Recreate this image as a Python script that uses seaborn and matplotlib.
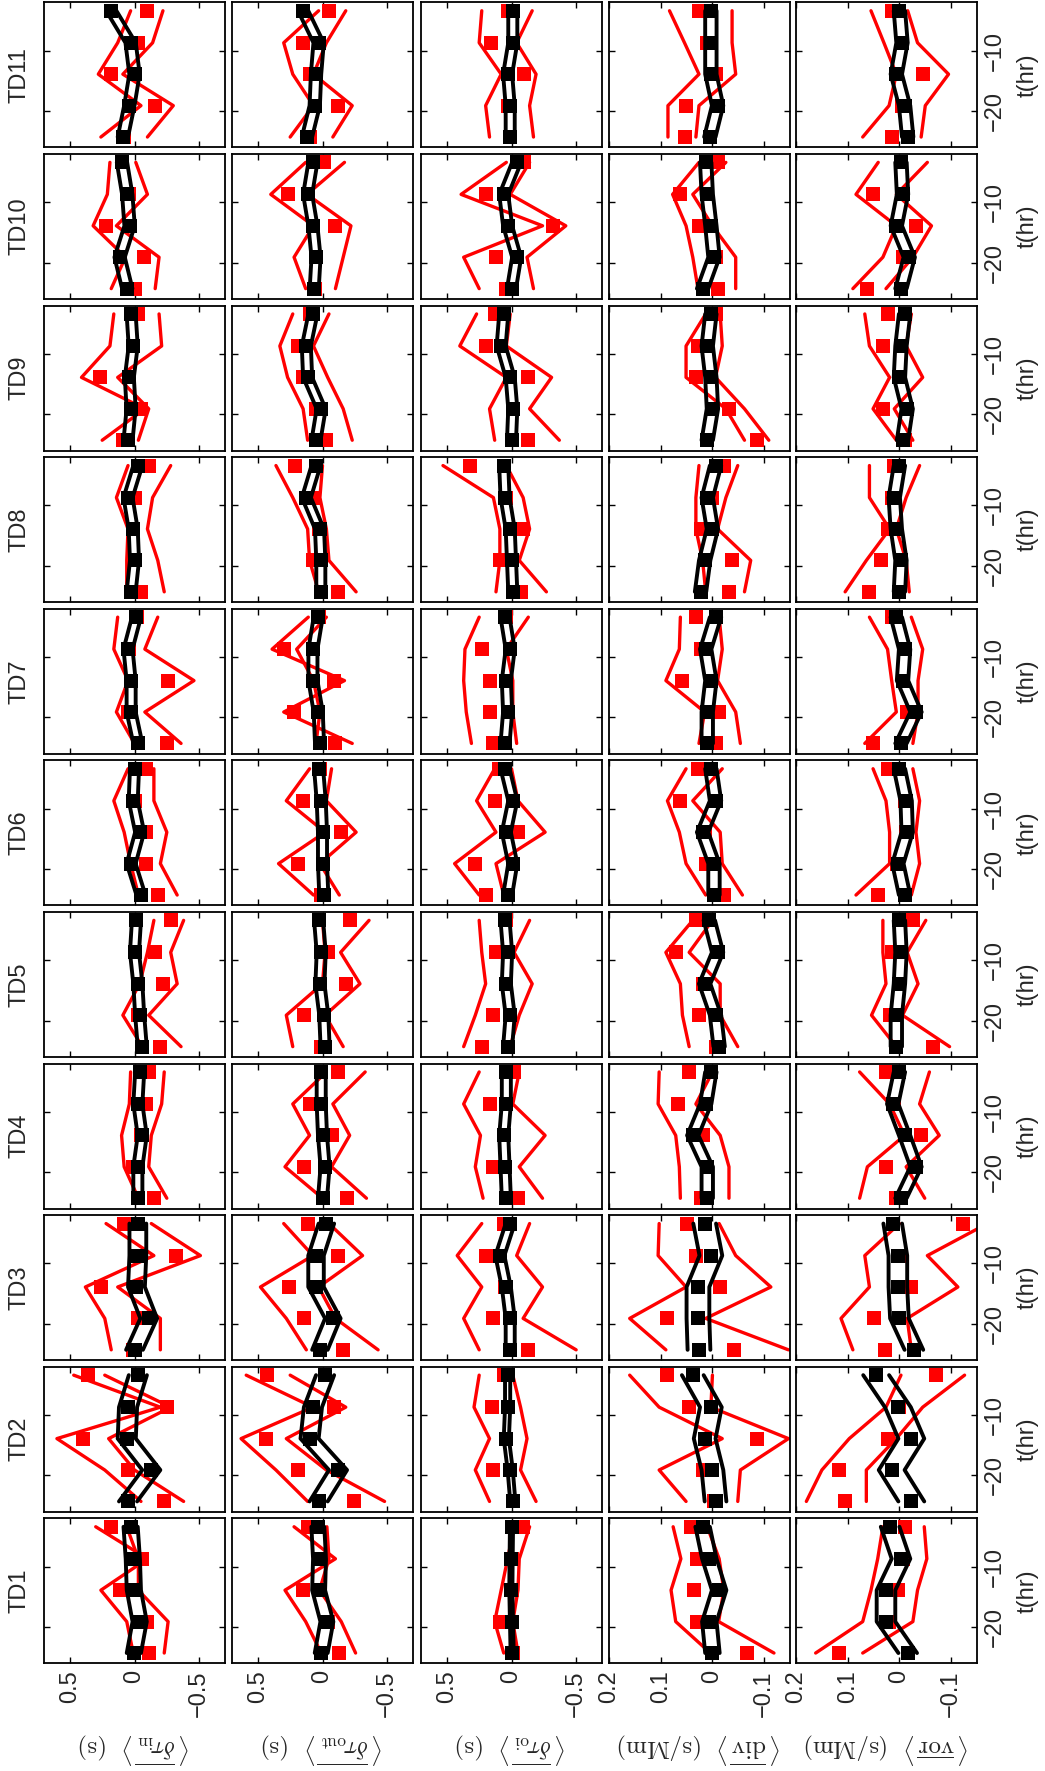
import numpy as np
import matplotlib
matplotlib.use('Agg')
import matplotlib.pyplot as plt
import seaborn as sns

# times of the five samples (hours)
t_hr = [-24.3, -19.1, -13.9, -8.7, -3.4]

td_names = ['TD1', 'TD2', 'TD3', 'TD4', 'TD5', 'TD6', 'TD7', 'TD8', 'TD9', 'TD10', 'TD11']
quantities = ['in', 'out', 'oi', 'div', 'vor']

value_labels = [
    r'$\langle\,\overline{\delta\tau_{\rm in}}\,\rangle\ \ ({\rm s})$',
    r'$\langle\,\overline{\delta\tau_{\rm out}}\,\rangle\ \ ({\rm s})$',
    r'$\langle\,\overline{\delta\tau_{\rm oi}}\,\rangle\ \ ({\rm s})$',
    r'$\langle\,\overline{\rm div}\,\rangle\ \ ({\rm s/Mm})$',
    r'$\langle\,\overline{\rm vor}\,\rangle\ \ ({\rm s/Mm})$',
]
value_ticks = [[0.5, 0, -0.5], [0.5, 0, -0.5], [0.5, 0, -0.5],
               [0.2, 0.1, 0, -0.1], [0.2, 0.1, 0, -0.1]]
value_tick_labels = [['0.5', '0', '\u22120.5'], ['0.5', '0', '\u22120.5'], ['0.5', '0', '\u22120.5'],
                     ['0.2', '0.1', '0', '\u22120.1'], ['0.2', '0.1', '0', '\u22120.1']]
t_ticks = [-20, -10]
t_tick_labels = ['\u221220', '\u221210']

# red squares, [TD][quantity] -> values at t_hr
red_pts = [
    [[-0.115, -0.10, 0.11, -0.06, 0.185], [-0.13, -0.04, 0.15, 0.02, 0.11], [-0.01, 0.09, 0.0, 0.0, -0.09],
     [-0.067, 0.03, 0.035, 0.03, 0.042], [0.117, 0.02, 0.003, -0.006, -0.01]],
    [[-0.23, 0.05, 0.40, -0.25, 0.36], [-0.24, 0.19, 0.44, -0.09, 0.43], [-0.01, 0.14, 0.04, 0.15, 0.06],
     [-0.003, 0.019, -0.087, 0.045, 0.087], [0.106, 0.116, 0.023, 0.0, -0.071]],
    [[0.01, -0.026, 0.26, -0.32, 0.08], [-0.16, 0.14, 0.26, -0.12, 0.115], [-0.13, 0.14, 0.05, 0.20, 0.06],
     [-0.041, 0.087, -0.015, 0.032, 0.049], [0.028, 0.049, -0.023, 0.0, -0.122]],
    [[-0.15, 0.01, -0.05, -0.09, -0.11], [-0.19, 0.14, -0.07, 0.10, -0.12], [-0.05, 0.14, 0.06, 0.17, -0.02],
     [0.023, 0.01, 0.019, 0.067, 0.045], [0.006, 0.026, -0.041, 0.01, 0.026]],
    [[-0.20, -0.03, -0.22, -0.16, -0.28], [0.01, 0.14, -0.18, -0.04, -0.21], [0.23, 0.14, 0.04, 0.12, 0.04],
     [-0.006, 0.026, 0.019, 0.07, 0.032], [-0.064, 0.019, 0.0, 0.015, -0.026]],
    [[-0.18, -0.09, -0.09, 0.0, -0.09], [0.01, 0.19, -0.14, 0.15, 0.02], [0.20, 0.28, -0.05, 0.13, 0.10],
     [-0.023, 0.013, 0.015, 0.062, 0.028], [0.041, 0.005, -0.012, -0.01, 0.023]],
    [[-0.25, 0.05, -0.26, 0.04, -0.02], [-0.10, 0.22, -0.09, 0.30, 0.03], [0.14, 0.17, 0.17, 0.23, 0.04],
     [-0.006, -0.013, 0.058, 0.023, 0.032], [0.051, -0.015, -0.006, -0.01, 0.015]],
    [[-0.05, 0.0, 0.01, 0.0, -0.11], [-0.12, 0.074, 0.03, 0.074, 0.21], [-0.07, 0.09, -0.09, 0.04, 0.32],
     [-0.032, -0.038, 0.023, 0.0, -0.023], [0.058, 0.036, 0.023, 0.015, 0.01]],
    [[0.09, -0.05, 0.27, 0.01, -0.026], [-0.03, 0.05, 0.15, 0.19, 0.10], [-0.13, -0.01, -0.13, 0.20, 0.13],
     [-0.087, -0.032, 0.032, 0.028, -0.006], [-0.01, 0.032, 0.0, 0.032, 0.023]],
    [[0.0, -0.07, 0.22, 0.04, 0.10], [0.06, 0.05, -0.10, 0.27, -0.01], [0.04, 0.12, -0.32, 0.20, -0.10],
     [-0.01, -0.006, 0.026, 0.062, -0.01], [0.062, -0.006, -0.032, 0.051, -0.003]],
    [[0.08, -0.16, 0.18, -0.03, -0.10], [0.10, -0.12, 0.10, 0.15, -0.05], [0.01, 0.03, -0.10, 0.16, 0.03],
     [0.054, 0.051, -0.006, 0.01, 0.026], [0.015, -0.005, -0.046, -0.005, 0.015]],
]

# the two red curves
red_line_a = [
    [[0.01, 0.06, 0.26, -0.10, 0.30], [0.01, 0.13, 0.29, -0.10, 0.22], [0.06, 0.13, 0.08, 0.03, -0.02],
     [0.004, 0.071, 0.08, 0.061, 0.076], [0.162, 0.071, 0.055, 0.042, 0.032]],
    [[-0.05, 0.23, 0.60, -0.20, 0.47], [0.115, 0.36, 0.63, 0.074, 0.59], [0.17, 0.28, 0.17, 0.29, 0.25],
     [0.051, 0.103, -0.019, 0.103, 0.16], [0.18, 0.15, 0.097, 0.026, -0.003]],
    [[0.18, 0.23, 0.38, -0.15, 0.22], [0.125, 0.28, 0.48, 0.074, 0.30], [0.25, 0.37, 0.23, 0.42, 0.23],
     [0.09, 0.16, 0.051, 0.105, 0.103], [0.09, 0.113, 0.058, 0.067, 0.0]],
    [[-0.03, 0.08, 0.10, 0.04, 0.03], [0.0, 0.29, 0.10, 0.23, -0.03], [0.22, 0.28, 0.24, 0.37, 0.25],
     [0.062, 0.064, 0.071, 0.105, 0.103], [0.077, 0.062, -0.01, 0.019, 0.077]],
    [[-0.06, 0.09, -0.04, -0.10, -0.15], [0.23, 0.28, 0.0, -0.02, 0.0], [0.37, 0.28, 0.20, 0.23, 0.25],
     [0.045, 0.058, 0.062, 0.09, 0.038], [0.006, 0.054, 0.026, 0.032, 0.032]],
    [[-0.03, 0.03, 0.08, 0.16, 0.05], [0.07, 0.34, -0.02, 0.28, 0.10], [0.25, 0.44, 0.12, 0.27, 0.13],
     [0.013, 0.051, 0.064, 0.087, 0.051], [0.084, 0.019, 0.019, 0.026, 0.051]],
    [[0.0, 0.14, 0.05, 0.16, 0.13], [-0.23, 0.30, -0.17, 0.39, 0.11], [0.31, 0.35, 0.37, 0.36, 0.25],
     [0.026, 0.015, 0.09, 0.064, 0.062], [0.067, 0.006, 0.015, 0.023, 0.058]],
    [[0.06, 0.06, 0.05, 0.14, 0.05], [0.03, 0.10, 0.115, 0.23, 0.36], [0.12, 0.09, 0.09, 0.14, 0.53],
     [0.013, 0.019, 0.032, 0.032, 0.026], [0.105, 0.064, 0.019, 0.058, 0.058]],
    [[0.25, -0.08, 0.41, 0.19, 0.16], [0.115, 0.15, 0.27, 0.33, 0.23], [0.13, 0.17, 0.04, 0.40, 0.27],
     [-0.062, -0.026, 0.051, 0.051, 0.013], [0.006, 0.051, 0.019, 0.058, 0.067]],
    [[0.18, 0.07, 0.32, 0.21, 0.19], [0.13, 0.22, 0.07, 0.40, 0.13], [0.25, 0.37, -0.24, 0.39, 0.04],
     [0.028, 0.038, 0.051, 0.077, 0.026], [0.09, 0.032, 0.006, 0.084, 0.041]],
    [[0.26, -0.05, 0.28, 0.13, 0.03], [0.25, 0.07, 0.23, 0.30, 0.03], [0.17, 0.20, 0.08, 0.25, 0.23],
     [0.086, 0.086, 0.026, 0.054, 0.083], [0.071, 0.02, 0.006, 0.03, 0.055]],
]
red_line_b = [
    [[-0.23, -0.26, -0.03, -0.03, 0.06], [-0.256, -0.145, 0.023, -0.05, -0.034], [-0.05, -0.01, -0.05, -0.06, -0.14],
     [-0.119, -0.012, -0.022, -0.013, 0.01], [0.071, -0.026, -0.035, -0.053, -0.048]],
    [[-0.38, 0.0, 0.20, -0.28, 0.23], [-0.48, -0.03, 0.28, -0.18, 0.25], [-0.19, -0.07, -0.12, -0.07, -0.01],
     [-0.049, -0.054, -0.147, 0.003, 0.0], [0.064, 0.064, 0.006, -0.045, -0.126]],
    [[-0.20, -0.20, 0.13, -0.51, -0.13], [-0.43, -0.10, 0.03, -0.31, -0.05], [-0.50, -0.09, -0.24, -0.04, -0.14],
     [-0.147, 0.013, -0.113, -0.045, -0.013], [-0.023, -0.015, -0.113, -0.054, -0.17]],
    [[-0.25, -0.11, -0.13, -0.21, -0.23], [-0.34, -0.07, -0.21, -0.08, -0.33], [-0.24, -0.06, -0.26, -0.01, -0.06],
     [-0.032, -0.032, -0.015, 0.032, 0.0], [-0.049, -0.013, -0.077, -0.039, -0.058]],
    [[-0.36, -0.11, -0.33, -0.28, -0.38], [-0.16, -0.02, -0.29, -0.14, -0.36], [0.01, -0.06, -0.16, -0.02, -0.14],
     [-0.049, -0.015, -0.015, 0.045, 0.0], [-0.097, -0.006, -0.036, -0.015, -0.051]],
    [[-0.33, -0.20, -0.25, -0.15, -0.15], [-0.13, 0.02, -0.26, -0.03, -0.07], [0.06, 0.12, -0.26, -0.05, 0.0],
     [-0.058, -0.019, -0.015, 0.038, -0.019], [-0.023, -0.039, -0.032, -0.039, -0.026]],
    [[-0.36, -0.08, -0.46, -0.08, -0.18], [0.05, 0.02, 0.07, 0.20, -0.03], [-0.04, -0.01, -0.01, 0.04, -0.13],
     [-0.054, -0.045, -0.01, -0.019, -0.013], [-0.026, -0.036, -0.036, -0.045, -0.023]],
    [[-0.23, -0.18, -0.10, -0.14, -0.28], [-0.26, -0.05, -0.03, 0.02, 0.0], [-0.27, -0.06, -0.14, -0.09, 0.04],
     [-0.062, -0.074, -0.01, -0.026, -0.049], [-0.019, -0.013, 0.006, -0.013, -0.039]],
    [[-0.03, -0.11, 0.13, -0.21, -0.19], [-0.23, -0.16, -0.04, 0.07, -0.05], [-0.37, -0.14, -0.31, 0.04, 0.01],
     [-0.109, -0.062, -0.006, -0.019, -0.015], [-0.026, 0.01, -0.045, -0.013, -0.023]],
    [[-0.16, -0.19, 0.14, -0.10, -0.01], [-0.10, -0.16, -0.22, 0.12, -0.17], [-0.17, -0.12, -0.42, 0.01, -0.14],
     [-0.045, -0.045, 0.0, 0.038, -0.026], [0.026, -0.026, -0.062, 0.006, -0.054]],
    [[-0.10, -0.30, 0.09, -0.14, -0.22], [-0.08, -0.23, 0.07, -0.03, -0.18], [-0.17, -0.14, -0.19, -0.04, -0.16],
     [0.032, 0.026, -0.045, -0.038, -0.038], [-0.042, -0.05, -0.095, -0.035, -0.016]],
]

# black squares and the half-width of the black band around them
blk_pts = [
    [[0.005, -0.04, 0.005, 0.013, 0.03], [0.01, -0.034, 0.03, 0.023, 0.036], [-0.005, 0.0, 0.005, 0.003, 0.0],
     [0.0, 0.006, -0.013, 0.006, 0.019], [-0.016, 0.026, 0.026, -0.003, 0.018]],
    [[0.05, -0.13, 0.06, 0.05, -0.026], [0.03, -0.12, 0.10, 0.074, -0.02], [-0.01, 0.01, 0.04, 0.03, 0.03],
     [-0.006, 0.0, 0.015, 0.003, 0.038], [-0.023, 0.015, -0.023, 0.003, 0.045]],
    [[0.0, -0.11, -0.015, -0.026, -0.026], [0.02, -0.08, 0.05, 0.05, -0.03], [0.01, 0.01, 0.04, 0.09, 0.01],
     [0.026, 0.028, 0.028, 0.003, 0.015], [-0.028, 0.0, 0.003, 0.003, 0.013]],
    [[-0.026, -0.026, -0.06, -0.026, -0.04], [0.0, -0.02, 0.0, 0.01, 0.01], [0.04, 0.05, 0.06, 0.04, 0.04],
     [0.01, 0.01, 0.038, 0.013, 0.003], [-0.003, -0.032, -0.01, 0.013, 0.0]],
    [[-0.06, -0.04, -0.026, 0.0, -0.015], [-0.02, -0.01, 0.02, 0.01, 0.03], [0.03, 0.01, 0.04, 0.03, 0.05],
     [-0.013, -0.006, 0.015, -0.01, 0.006], [0.006, 0.006, 0.0, -0.003, 0.0]],
    [[-0.05, 0.026, -0.04, 0.01, 0.0], [-0.01, 0.0, 0.0, 0.01, 0.03], [0.03, -0.01, 0.04, -0.01, 0.05],
     [-0.003, -0.003, 0.019, -0.006, 0.003], [-0.01, 0.003, -0.015, -0.013, 0.0]],
    [[-0.026, 0.026, 0.026, 0.05, -0.015], [0.023, 0.033, 0.074, 0.074, 0.033], [0.05, 0.03, 0.04, 0.01, 0.05],
     [0.01, 0.01, 0.003, 0.013, -0.006], [-0.003, -0.032, -0.006, -0.01, 0.006]],
    [[0.026, 0.0, 0.01, 0.05, -0.026], [0.013, 0.013, 0.023, 0.125, 0.05], [-0.01, 0.0, 0.01, 0.05, 0.06],
     [0.023, 0.015, 0.0, 0.01, -0.006], [0.0, -0.003, 0.006, 0.01, 0.0]],
    [[0.05, 0.026, 0.04, 0.01, 0.026], [0.05, 0.01, 0.115, 0.125, 0.074], [0.0, -0.01, 0.01, 0.08, 0.06],
     [0.01, 0.0, 0.003, 0.01, 0.003], [-0.006, -0.015, 0.0, -0.003, -0.01]],
    [[0.056, 0.115, 0.038, 0.056, 0.097], [0.064, 0.05, 0.074, 0.115, 0.074], [0.0, -0.04, 0.03, 0.06, -0.04],
     [0.019, -0.003, 0.003, 0.01, 0.013], [-0.003, -0.019, 0.006, -0.006, -0.003]],
    [[0.09, 0.04, 0.0, 0.03, 0.18], [0.12, 0.06, 0.05, 0.03, 0.15], [0.01, 0.01, 0.03, -0.01, -0.01],
     [0.005, -0.01, 0.003, 0.003, 0.003], [-0.016, -0.01, 0.006, -0.005, 0.0]],
]
blk_err = [
    [0.055, 0.05, 0.012, 0.014, 0.018],
    [0.07, 0.07, 0.02, 0.021, 0.025],
    [0.065, 0.06, 0.035, 0.022, 0.018],
    [0.035, 0.035, 0.035, 0.011, 0.011],
    [0.035, 0.035, 0.035, 0.011, 0.011],
    [0.035, 0.035, 0.035, 0.011, 0.011],
    [0.035, 0.035, 0.035, 0.011, 0.011],
    [0.035, 0.035, 0.035, 0.011, 0.011],
    [0.035, 0.035, 0.035, 0.011, 0.011],
    [0.04, 0.035, 0.035, 0.011, 0.011],
    [0.04, 0.04, 0.035, 0.011, 0.011],
]

sns.set_theme(style='ticks')
plt.rcParams['font.family'] = ['Liberation Sans', 'DejaVu Sans']
plt.rcParams['mathtext.fontset'] = 'cm'
plt.rcParams['axes.linewidth'] = 1.3

W, H = 1045, 1771
fig = plt.figure(figsize=(W / 100, H / 100), dpi=100)

col_left = [44, 232, 421, 609, 796]
panel_w, panel_h = 181, 145
row_pitch = 151.6
bottom_row_top = 1518.3

fs = 17
for r in range(len(td_names)):
    top = bottom_row_top - r * row_pitch
    for q in range(len(quantities)):
        ax = fig.add_axes([col_left[q] / W, 1 - (top + panel_h) / H, panel_w / W, panel_h / H])
        ax.set_facecolor('white')

        blk = np.array(blk_pts[r][q])
        err = blk_err[r][q]
        sns.lineplot(x=red_line_a[r][q], y=t_hr, orient='y', estimator=None, color='red', lw=2.4, ax=ax, zorder=2)
        sns.lineplot(x=red_line_b[r][q], y=t_hr, orient='y', estimator=None, color='red', lw=2.4, ax=ax, zorder=2)
        sns.scatterplot(x=red_pts[r][q], y=t_hr, marker='s', s=90, color='red', linewidth=0, ax=ax, zorder=3)
        sns.lineplot(x=blk - err, y=t_hr, orient='y', estimator=None, color='black', lw=2.8, ax=ax, zorder=4)
        sns.lineplot(x=blk + err, y=t_hr, orient='y', estimator=None, color='black', lw=2.8, ax=ax, zorder=4)
        sns.scatterplot(x=blk, y=t_hr, marker='s', s=90, color='black', linewidth=0, ax=ax, zorder=5)

        if q < 3:
            ax.set_xlim(0.7, -0.7)
        else:
            ax.set_xlim(0.2, -0.15)
        ax.set_ylim(-26, -2)
        ax.set_xticks(value_ticks[q])
        ax.set_yticks(t_ticks)
        ax.tick_params(direction='in', length=4, width=1, top=True, right=True,
                       labelleft=False, labeltop=False,
                       labelbottom=(r == 0), labelright=(q == 4),
                       labelsize=fs, pad=5, color='black')
        ax.set_xlabel('')
        ax.set_ylabel('')

        if r == 0:
            ax.set_xticklabels(value_tick_labels[q], rotation=90)
            ax.set_xlabel(value_labels[q], rotation=180, fontsize=fs + 1, labelpad=10)
        if q == 4:
            ax.set_yticklabels(t_tick_labels)
            for tk in ax.yaxis.get_major_ticks():
                tk.label2.set_rotation(90)
                tk.label2.set_va('center')
            ax.yaxis.set_label_position('right')
            ax.set_ylabel('t(hr)', fontsize=fs, labelpad=8)
        if q == 0:
            ax.text(-0.135, 0.5, td_names[r], transform=ax.transAxes, rotation=90,
                    ha='center', va='center', fontsize=fs)
        for s in ax.spines.values():
            s.set_color('black')

fig.savefig('out.png', dpi=100)
